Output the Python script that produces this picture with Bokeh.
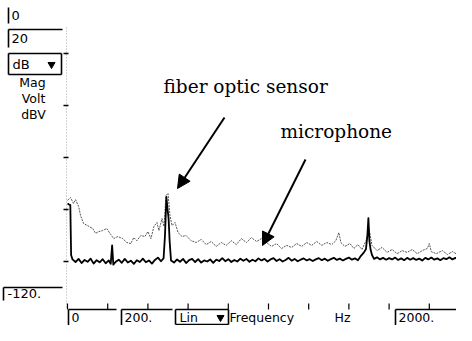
from bokeh.plotting import figure
from bokeh.models import Range1d, Arrow, NormalHead
from bokeh.core.properties import value
from bokeh.embed import file_html
from bokeh.resources import INLINE

# ---------------- data ----------------
freq_ticks = [0, 200, 400, 600, 800, 1000, 1200, 1400, 1600, 1800, 2000]
db_ticks = [-20, -40, -60, -80, -100]

black_f = [0, 8, 14, 18, 25, 40, 55, 70, 85, 100, 115, 130, 145, 160, 175, 190, 205, 215, 222, 228,
           240, 255, 270, 285, 300, 315, 330, 345, 360, 375, 390, 405, 420, 435, 450, 465, 478, 485,
           492, 498, 503, 508, 515, 530, 545, 560, 575, 590, 605, 620, 635, 650, 665, 680, 695, 710,
           725, 740, 755, 770, 785, 800, 815, 830, 845, 860, 875, 890, 905, 920, 935, 950, 965, 980,
           995, 1010, 1025, 1040, 1055, 1070, 1085, 1100, 1115, 1130, 1145, 1160, 1175, 1190, 1205,
           1220, 1235, 1250, 1265, 1280, 1295, 1310, 1325, 1340, 1355, 1370, 1385, 1400, 1415, 1430,
           1445, 1460, 1475, 1485, 1492, 1497, 1502, 1508, 1515, 1525, 1540, 1555, 1570, 1585, 1600,
           1615, 1630, 1645, 1660, 1675, 1690, 1705, 1720, 1735, 1750, 1765, 1780, 1795, 1810, 1825,
           1840, 1855, 1870, 1885, 1900, 1915, 1930, 1945, 1960, 1975, 1990, 2005, 2020]
black_db = [-77.7, -78.1, -78.3, -97.5, -99.2, -100.2, -99.0, -100.6, -99.4, -100.1, -98.9, -100.8,
            -99.5, -100.3, -99.1, -100.7, -99.6, -100.9, -93.8, -101.2, -100.1, -99.3, -100.5, -99.0,
            -100.4, -99.7, -100.9, -99.5, -100.2, -98.9, -100.3, -99.6, -100.8, -99.4, -98.5, -99.9,
            -98.8, -90.0, -75.2, -80.0, -83.5, -92.0, -99.6, -100.4, -99.2, -100.1, -99.0, -100.6,
            -99.5, -99.0, -100.2, -99.1, -100.4, -99.6, -100.0, -99.2, -100.5, -99.3, -99.8, -98.7,
            -99.9, -99.1, -100.2, -99.4, -100.0, -98.9, -99.7, -99.0, -100.1, -99.3, -99.9, -98.8,
            -99.6, -99.0, -100.0, -99.2, -98.7, -99.8, -99.1, -100.0, -99.4, -98.6, -99.7, -99.0,
            -99.9, -99.3, -98.8, -99.6, -99.1, -99.8, -99.2, -98.7, -99.5, -98.9, -99.7, -99.1,
            -98.6, -99.4, -98.9, -99.6, -99.0, -98.5, -99.3, -98.8, -99.5, -97.8, -96.5, -95.2,
            -90.0, -83.3, -92.0, -95.5, -97.5, -99.0, -98.4, -99.2, -98.6, -99.3, -98.7, -99.2,
            -98.5, -99.4, -98.8, -99.5, -98.6, -99.3, -98.7, -99.4, -98.9, -99.6, -98.6, -99.2,
            -98.5, -99.3, -98.8, -99.5, -98.7, -99.1, -98.4, -99.2, -98.6, -99.3, -98.5, -99.0,
            -98.4, -99.1, -98.7]

gray_f = [0, 15, 30, 40, 55, 65, 80, 100, 125, 140, 155, 175, 195, 215, 230, 250, 275, 295, 315,
          330, 345, 365, 385, 400, 415, 430, 445, 455, 470, 480, 490, 500, 510, 520, 535, 550, 570,
          590, 615, 640, 665, 690, 715, 740, 765, 790, 815, 840, 865, 890, 915, 940, 965, 990, 1015,
          1040, 1065, 1090, 1115, 1140, 1165, 1190, 1215, 1240, 1265, 1290, 1315, 1335, 1350, 1360,
          1380, 1405, 1425, 1445, 1465, 1485, 1500, 1515, 1540, 1565, 1590, 1615, 1640, 1665, 1690,
          1715, 1740, 1765, 1790, 1800, 1810, 1835, 1865, 1890, 1915, 1940, 1965, 1990, 2015]
gray_db = [-76.5, -75.4, -77.7, -76.2, -78.8, -82.3, -85.4, -86.2, -87.3, -89.2, -88.5, -88.1, -87.3,
           -89.6, -91.2, -90.4, -91.2, -92.7, -93.1, -90.8, -92.0, -90.0, -90.4, -88.5, -91.2, -86.5,
           -85.0, -88.1, -83.5, -86.5, -74.6, -73.8, -82.3, -86.2, -85.0, -88.9, -90.4, -90.0, -92.0,
           -92.7, -91.5, -93.5, -92.3, -94.2, -92.7, -93.8, -92.0, -93.5, -91.2, -92.7, -90.8, -92.3,
           -91.2, -92.7, -94.2, -93.1, -95.0, -93.8, -94.6, -93.1, -94.2, -92.7, -93.8, -92.3, -93.8,
           -92.7, -93.5, -92.0, -88.9, -92.7, -94.2, -93.1, -95.0, -93.5, -95.4, -92.0, -87.3, -93.8,
           -95.8, -94.6, -96.5, -95.4, -97.0, -95.8, -96.5, -95.4, -97.0, -95.8, -95.0, -93.1, -96.2,
           -97.0, -95.8, -97.3, -96.2, -97.3, -96.5, -97.7, -97.0]

# ---------------- figure ----------------
W, H = 456, 325
p = figure(width=W, height=H, output_backend="svg", toolbar_location=None,
           x_range=Range1d(0, W), y_range=Range1d(H, 0),
           min_border=0, min_border_left=0, min_border_right=0,
           min_border_top=0, min_border_bottom=0)
p.axis.visible = False
p.grid.visible = False
p.outline_line_color = None
p.background_fill_color = "white"
p.border_fill_color = "white"

# data scales: 0 Hz at px 67, 0.201 px per Hz ; 0 dB at px 1, 2.6 px per dB
p.extra_x_ranges = {"freq": Range1d((0 - 67) / 0.201, (W - 67) / 0.201)}
p.extra_y_ranges = {"db": Range1d(-(H - 1) / 2.6, -(0 - 1) / 2.6)}

# left dotted axis line and ticks
p.line(x=[66, 66], y=[-10, -118], y_range_name="db", line_color="#aaaaaa",
       line_width=1, line_dash="1 2")
p.segment(x0=[63] * len(db_ticks), x1=[68] * len(db_ticks), y0=db_ticks, y1=db_ticks,
          y_range_name="db", line_color="black", line_width=1.5)
# bottom ticks
p.segment(x0=freq_ticks, x1=freq_ticks, y0=[303] * len(freq_ticks), y1=[309] * len(freq_ticks),
          x_range_name="freq", line_color="black", line_width=1.2)

# traces
p.line(x=gray_f, y=gray_db, x_range_name="freq", y_range_name="db",
       line_color="#555555", line_width=1, line_dash="2 1")
p.line(x=black_f, y=black_db, x_range_name="freq", y_range_name="db",
       line_color="black", line_width=1.8, line_join="round")

# UI chrome (panel boxes)
seg_x0 = [8, 8, 8, 8, 8, 61, 8, 3, 3, 68, 68, 121, 121, 175, 175, 228, 175, 395, 395]
seg_y0 = [7, 29, 29, 53, 53, 53, 74, 287, 287, 309, 309, 309, 309, 309, 309, 309, 324, 309, 309]
seg_x1 = [8, 62, 8, 61, 8, 61, 61, 62, 3, 116, 68, 172, 121, 228, 175, 228, 228, 472, 395]
seg_y1 = [23, 29, 47, 53, 74, 74, 74, 287, 300, 309, 325, 309, 325, 309, 324, 324, 324, 309, 325]
p.segment(x0=seg_x0, y0=seg_y0, x1=seg_x1, y1=seg_y1, line_color="black", line_width=1.6)
# dropdown arrows
p.scatter(x=[51, 220], y=[64, 317], marker="inverted_triangle", size=7,
          fill_color="black", line_color="black")

ui_font = value("DejaVu Sans")
p.text(x=[11, 11, 12, 7], y=[15, 38, 64, 293],
       text=["0", "20", "dB", "-120."],
       text_font=ui_font, text_font_size="13px", text_baseline="middle",
       text_align="left", text_color="black")
p.text(x=[71, 124, 179, 229, 334, 398], y=[317, 317, 317, 317, 317, 317],
       text=["0", "200.", "Lin", "Frequency", "Hz", "2000."],
       text_font=ui_font, text_font_size="12.5px", text_baseline="middle",
       text_align="left", text_color="black")
p.text(x=[32, 33, 33], y=[82, 98, 114], text=["Mag", "Volt", "dBV"],
       text_font=ui_font, text_font_size="12.5px", text_baseline="middle",
       text_align="center", text_color="black")

# annotations
ann_font = value("DejaVu Serif")
p.text(x=[163, 280], y=[86, 131], text=["fiber optic sensor", "microphone"],
       text_font=ann_font, text_font_size="18.5px", text_baseline="middle",
       text_align="left", text_color="black")
p.add_layout(Arrow(end=NormalHead(size=13, fill_color="black", line_color="black"),
                   x_start=224, y_start=117, x_end=177, y_end=188,
                   line_width=2, line_color="black"))
p.add_layout(Arrow(end=NormalHead(size=13, fill_color="black", line_color="black"),
                   x_start=305, y_start=159, x_end=262, y_end=245,
                   line_width=2, line_color="black"))

open("out.html", "w").write(file_html(p, INLINE))
